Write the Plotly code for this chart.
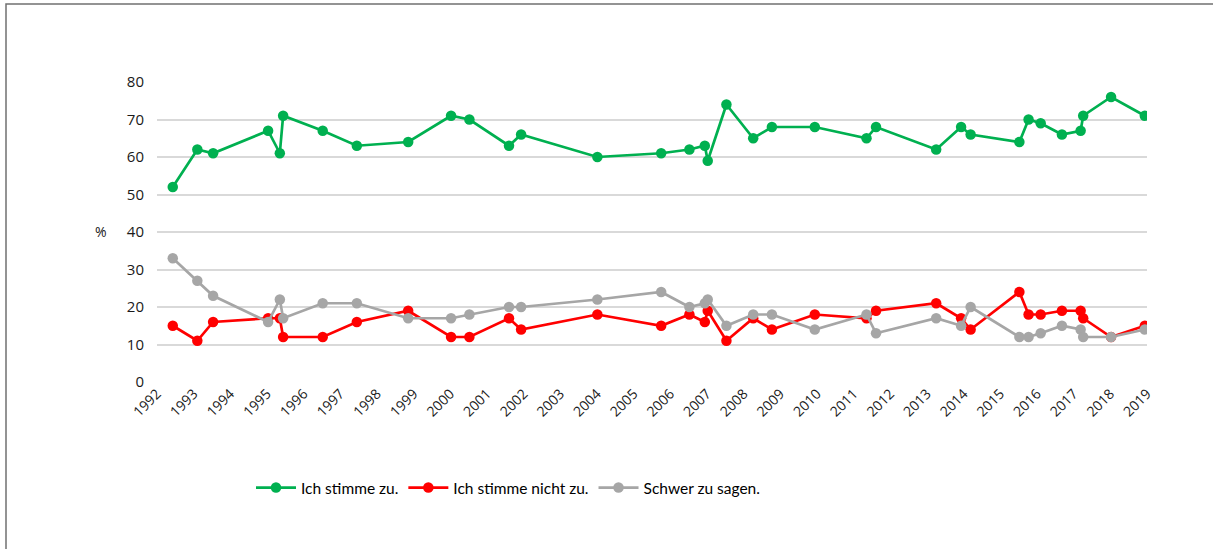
import plotly.graph_objects as go

# Survey dates (fractional years)
dates = [1992.43, 1993.10, 1993.53, 1995.03, 1995.35, 1995.44, 1996.52, 1997.45, 1998.85,
         2000.02, 2000.52, 2001.60, 2001.93, 2004.01, 2005.75, 2006.52, 2006.94, 2007.02,
         2007.53, 2008.26, 2008.77, 2009.94, 2011.35, 2011.61, 2013.25, 2013.93, 2014.19,
         2015.52, 2015.77, 2016.10, 2016.68, 2017.19, 2017.26, 2018.02, 2018.94]

agree = [52, 62, 61, 67, 61, 71, 67, 63, 64,
         71, 70, 63, 66, 60, 61, 62, 63, 59,
         74, 65, 68, 68, 65, 68, 62, 68, 66,
         64, 70, 69, 66, 67, 71, 76, 71]

disagree = [15, 11, 16, 17, 17, 12, 12, 16, 19,
            12, 12, 17, 14, 18, 15, 18, 16, 19,
            11, 17, 14, 18, 17, 19, 21, 17, 14,
            24, 18, 18, 19, 19, 17, 12, 15]

hard = [33, 27, 23, 16, 22, 17, 21, 21, 17,
        17, 18, 20, 20, 22, 24, 20, 21, 22,
        15, 18, 18, 14, 18, 13, 17, 15, 20,
        12, 12, 13, 15, 14, 12, 12, 14]

series_names = ["Ich stimme zu.", "Ich stimme nicht zu.", "Schwer zu sagen."]
series_colors = ["#00b050", "#ff0000", "#a6a6a6"]
tick_years = list(range(1992, 2020))

fig = go.Figure()
for name, vals, col in zip(series_names, [agree, disagree, hard], series_colors):
    fig.add_trace(go.Scatter(
        x=dates, y=vals, name=name, mode="lines+markers",
        line=dict(color=col, width=2.7),
        marker=dict(color=col, size=10.5),
    ))

W, H = 1213, 549
L, R, T, B = 157, 66, 82, 167
pw, ph = W - L - R, H - T - B

def px_x(p):
    return (p - L) / pw

def px_y(p):
    return (H - B - p) / ph

fig.update_layout(
    width=W, height=H,
    margin=dict(l=L, r=R, t=T, b=B),
    paper_bgcolor="white", plot_bgcolor="white",
    font=dict(family="Open Sans, DejaVu Sans, sans-serif", color="#1a1a1a", size=14),
    showlegend=True,
    legend=dict(orientation="h", x=px_x(508), y=px_y(488), xanchor="center", yanchor="middle",
                font=dict(family="Lato, Open Sans, sans-serif", size=15.5, color="#000000"),
                itemwidth=40, traceorder="normal"),
    xaxis=dict(range=[1992, 2019], tickvals=tick_years, ticktext=[str(y) for y in tick_years],
               tickangle=-45, showgrid=False, zeroline=False, showline=False, ticks="",
               tickfont=dict(size=14, color="#1a1a1a")),
    yaxis=dict(range=[0, 80], dtick=10, showgrid=True, gridcolor="#d9d9d9", gridwidth=1.5,
               zeroline=False, showline=False, ticks="", ticklabelstandoff=12,
               tickfont=dict(size=15, color="#1a1a1a")),
    annotations=[dict(text="%", xref="paper", yref="paper", x=px_x(93), y=px_y(231),
                      showarrow=False, font=dict(size=14, color="#1a1a1a"))],
    shapes=[dict(type="rect", xref="paper", yref="paper",
                 x0=px_x(6), x1=px_x(1230), y0=px_y(570), y1=px_y(4),
                 line=dict(color="#707070", width=1.5), fillcolor="rgba(0,0,0,0)", layer="below")],
)

fig.write_html("out.html", config={"displayModeBar": False},
               post_script="document.body.style.margin='0';")
